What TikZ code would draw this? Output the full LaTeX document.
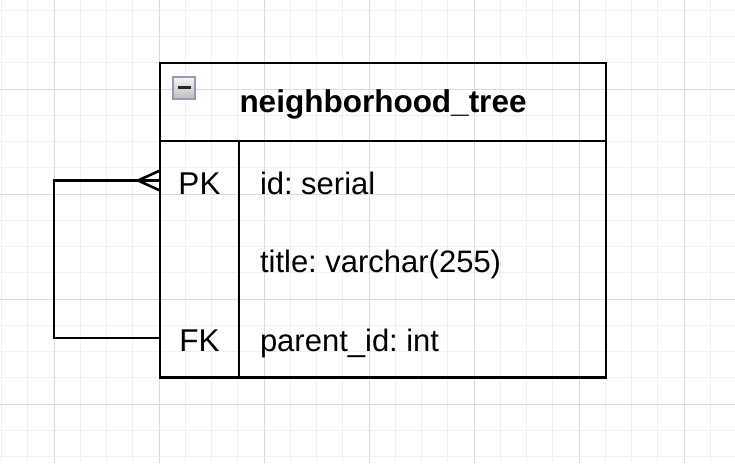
\documentclass[tikz,border=0pt]{standalone}
\usepackage{fontspec}
\setmainfont{Liberation Sans}
\usetikzlibrary{positioning, calc}
\definecolor{togedge}{HTML}{959DAE}

\begin{document}
\begin{tikzpicture}[x=1pt, y=1pt, node distance=78.75pt, on grid,
  txt/.style={font=\fontsize{31.5}{36}\selectfont, inner sep=0pt, outer sep=0pt, text height=27pt, text depth=0pt},
  hdr/.style={txt, draw, line width=2.6pt, minimum width=446pt, minimum height=78pt, font=\fontsize{31.5}{36}\selectfont\bfseries, text height=20.6pt},
  keycell/.style={txt, minimum width=79pt, minimum height=78.75pt},
  field/.style={txt, anchor=base west, font=\fontsize{31}{36}\selectfont},
  toggle/.style={draw=togedge, line width=2pt, minimum size=22pt, inner sep=0pt, outer sep=0pt, top color=black!4, bottom color=black!25},
  rel/.style={line width=2.6pt}]
  \useasboundingbox (0,0) rectangle (735,-463);
  \fill[white] (0,0) rectangle (735,-463);

  %grid
  \foreach \i in {0,...,27} \draw[black!6, line width=1pt] (1.5+26.25*\i,0) -- (1.5+26.25*\i,-463);
  \foreach \j in {0,...,17} \draw[black!6, line width=1pt] (0,-10.25-26.25*\j) -- (735,-10.25-26.25*\j);
  \foreach \i in {1,...,7} \draw[black!14, line width=1pt] (-51+105*\i,0) -- (-51+105*\i,-463);
  \foreach \j in {0,...,3} \draw[black!14, line width=1pt] (0,-89-105*\j) -- (735,-89-105*\j);

  %table
  \node[hdr] (head) at (383,-102) {neighborhood\_tree};
  \node[toggle] (tog) at ($(head.north west)+(24,-24.5)$) {};
  \draw[line width=3pt, black!85] ($(tog.center)+(-6.5,0)$) -- ($(tog.center)+(6.5,0)$);

  \node[keycell] (pk)  at (199.5,-180.5) {PK};
  \node[keycell] (mid) [below=of pk]  {};
  \node[keycell] (fk)  [below=of mid] {FK};
  \draw[line width=2.6pt] (head.south west) rectangle (fk.south -| head.east);
  \draw[line width=2.6pt] (pk.north east) -- (fk.south east);

  \node[field] (fid)     at ($(pk.base east)+(21,0)$)  {id:\hspace{8.5pt}serial};
  \node[field] (ftitle)  at ($(mid.base east)+(21,0)$) {title:\hspace{8.5pt}varchar(255)};
  \node[field] (fparent) at ($(fk.base east)+(21,0)$)  {parent\_id:\hspace{8.5pt}int};

  %self reference, many end at PK
  \coordinate (crow) at ($(pk.west)+(-22,0)$);
  \draw[rel] (fk.west) -- ++(-106,0) |- (pk.west);
  \draw[rel] ($(pk.west)+(0,10)$) -- (crow) -- ($(pk.west)+(0,-10)$);
\end{tikzpicture}
\end{document}
